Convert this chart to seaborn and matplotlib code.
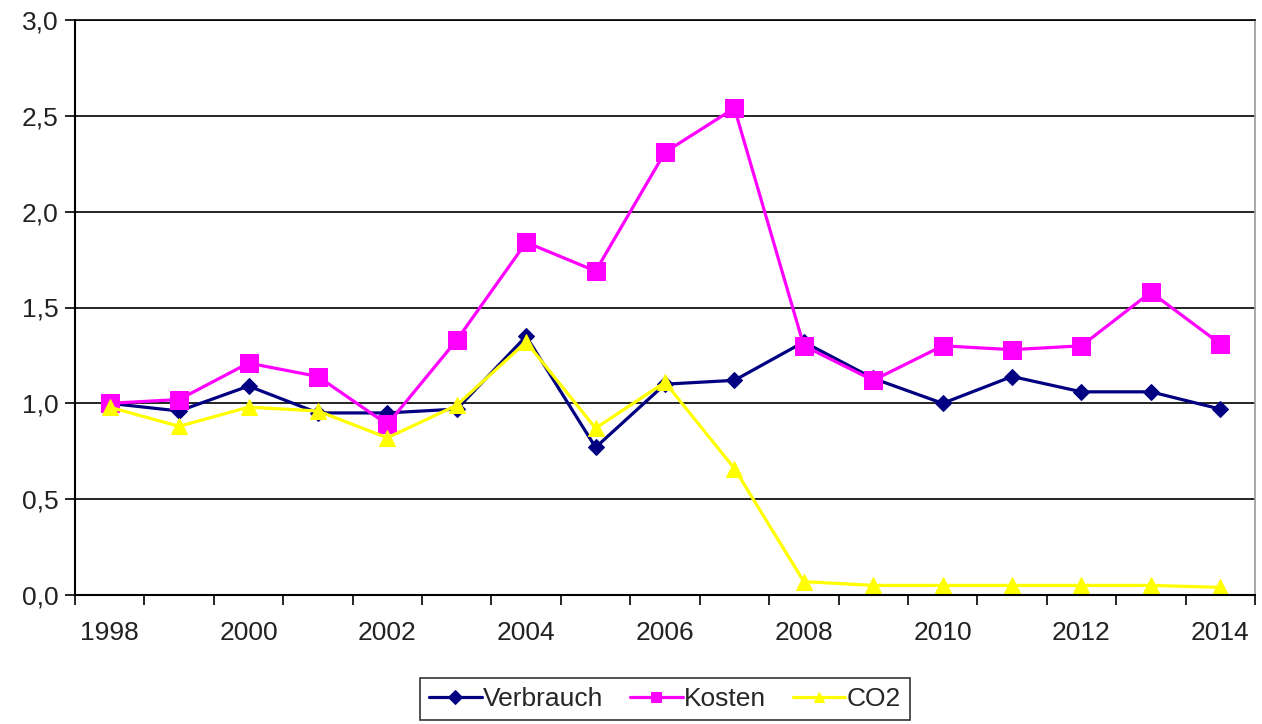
import matplotlib
matplotlib.use("Agg")
import matplotlib.pyplot as plt
import matplotlib.ticker as mticker
import seaborn as sns
import pandas as pd
import numpy as np

years = list(range(1998, 2015))
verbrauch = [1.00, 0.96, 1.09, 0.95, 0.95, 0.97, 1.35, 0.77, 1.10, 1.12, 1.32, 1.13, 1.00, 1.14, 1.06, 1.06, 0.97]
kosten = [1.00, 1.02, 1.21, 1.14, 0.89, 1.33, 1.84, 1.69, 2.31, 2.54, 1.30, 1.12, 1.30, 1.28, 1.30, 1.58, 1.31]
co2 = [0.98, 0.88, 0.98, 0.96, 0.82, 0.99, 1.32, 0.87, 1.11, 0.66, 0.07, 0.05, 0.05, 0.05, 0.05, 0.05, 0.04]

series_names = ["Verbrauch", "Kosten", "CO2"]
series_values = [verbrauch, kosten, co2]
colors = ["#000080", "#FF00FF", "#FFFF00"]
markers = ["D", "s", "^"]
msizes = [8.5, 13, 12]

sns.set_theme(style="white")
plt.rcParams['font.family'] = ['Liberation Sans', 'DejaVu Sans']

fig = plt.figure(figsize=(12.62, 7.24), dpi=100)
ax = fig.add_axes([75/1262, 1-595/724, (1255-75)/1262, (595-20)/724])

idx = np.arange(len(years))
for name, vals, c, m, ms in zip(series_names, series_values, colors, markers, msizes):
    df = pd.DataFrame({"x": idx, "y": vals})
    sns.lineplot(data=df, x="x", y="y", ax=ax, color=c, marker=m, markersize=ms,
                 markeredgecolor=c, linewidth=2.3, label=name)

ax.set_xlim(-0.5, len(years) - 0.5)
ax.set_ylim(0, 3.0)
ax.set_xlabel("")
ax.set_ylabel("")

# y axis
ax.yaxis.set_major_locator(mticker.MultipleLocator(0.5))
ax.yaxis.set_major_formatter(mticker.FuncFormatter(lambda v, p: f"{v:.1f}".replace(".", ",")))
ax.grid(axis="y", color="black", linewidth=1.2)
ax.tick_params(axis="y", which="major", direction="out", length=7, width=1.2, color="black",
               labelsize=19, labelcolor="#222222", pad=5, left=True)

# x axis: tick marks at category boundaries, labels every second year
ax.xaxis.set_major_locator(mticker.FixedLocator(np.arange(-0.5, len(years), 1.0)))
ax.xaxis.set_major_formatter(mticker.NullFormatter())
ax.xaxis.set_minor_locator(mticker.FixedLocator(idx[::2]))
ax.xaxis.set_minor_formatter(mticker.FixedFormatter([str(y) for y in years[::2]]))
ax.tick_params(axis="x", which="major", direction="out", length=7, width=1.2, color="black", bottom=True)
ax.tick_params(axis="x", which="minor", length=0, labelsize=19, labelcolor="#222222", pad=19, bottom=True)

for s in ["left", "bottom"]:
    ax.spines[s].set_color("black")
    ax.spines[s].set_linewidth(1.5)
ax.spines["top"].set_color("black")
ax.spines["top"].set_linewidth(1.2)
ax.spines["right"].set_color("#999999")
ax.spines["right"].set_linewidth(1.2)

ax.get_legend().remove()
handles, labels = ax.get_legend_handles_labels()
leg = fig.legend(handles, labels, loc="upper center", bbox_to_anchor=(665/1262, 1-678/724),
                 borderaxespad=0, ncol=3, fontsize=19, frameon=True, fancybox=False, edgecolor="black",
                 handlelength=2.0, handletextpad=0.05, columnspacing=1.0, borderpad=0.35)
leg.get_frame().set_linewidth(1.2)
for h in leg.legend_handles:
    h.set_markersize(7)

fig.savefig("out.png", dpi=100)
